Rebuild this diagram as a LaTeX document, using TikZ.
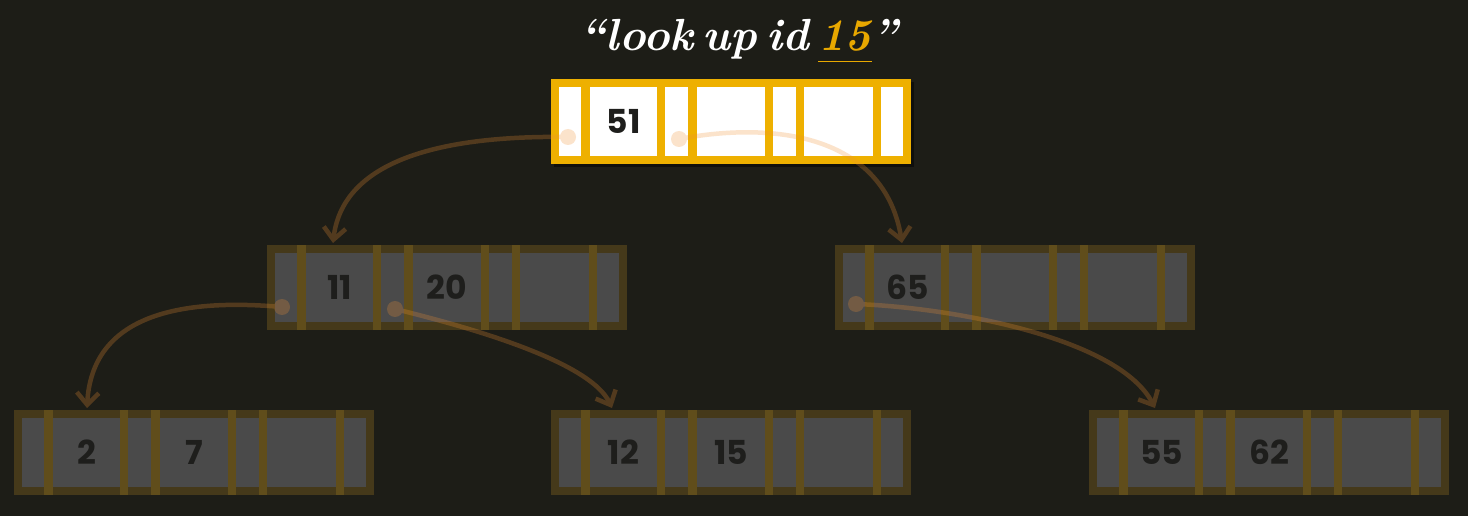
\documentclass[tikz,border=0pt]{standalone}
\usepackage{fontspec}
\newfontfamily\numfont{Poppins}
\usetikzlibrary{arrows.meta}
\definecolor{bgc}{RGB}{29,29,23}
\definecolor{goldc}{RGB}{238,176,0}
\definecolor{titlegold}{RGB}{232,168,0}
\definecolor{framec}{RGB}{69,57,26}
\definecolor{barc}{RGB}{96,77,27}
\definecolor{greyc}{RGB}{74,74,74}
\definecolor{keyc}{RGB}{30,30,28}
\definecolor{linkc}{RGB}{241,145,51}
\tikzset{
  keytext/.style={font=\numfont\bfseries\fontsize{33}{33}\selectfont, text=keyc, inner sep=0pt},
  titletext/.style={font=\bfseries\itshape\fontsize{45}{45}\selectfont, inner sep=0pt},
  framebox/.style={anchor=north west, minimum width=360pt, minimum height=85pt, inner sep=0pt, draw=none},
  ptrdot/.style={circle, fill=linkc, minimum size=16pt, inner sep=0pt, draw=none},
  link/.style={draw=linkc, line width=4.5pt, -{Straight Barb[length=12pt,width=22pt]}},
  linkgroup/.style={transparency group, opacity=0.25}
}
% #1 name, #2 x, #3 y, #4 frame colour, #5 bar colour, #6 cell colour, #7 key 1, #8 key 2
\newcommand\treenodebox[8]{%
  \begin{scope}[shift={(#2,#3)}]
    \node[framebox, fill=#4] (#1) at (0,0) {};
    \fill[#6] (8,8) rectangle (352,77);
    \foreach \a/\b in {30/39,106/114,137/146,214/222,245/253,322/330}
      \fill[#5] (\a,0) rectangle (\b,85);
    \node[keytext] (#1-k1) at (72.5,42.5) {#7};
    \node[keytext] (#1-k2) at (180,42.5) {#8};
  \end{scope}}
\begin{document}
\begin{tikzpicture}[x=1pt,y=-1pt]
\useasboundingbox (0,0) rectangle (1468,516);
\fill[bgc] (0,0) rectangle (1468,516);

% title
\node[titletext, text=titlegold, anchor=base west] (t2) at (818,51) {15};
\node[titletext, text=white, anchor=base east] (t1) at ([xshift=-9pt]t2.base west) {“look\hspace{9pt}up\hspace{9pt}id};
\node[titletext, text=white, anchor=base west] (t3) at (t2.base east) {”};
\draw[titlegold, line width=1pt] ([yshift=-11pt]t2.base west) -- ([yshift=-11pt]t2.base east);

% root shadow
\fill[black, opacity=0.45] (554,82) rectangle (914,167);
\treenodebox{root}{551}{79}{goldc}{goldc}{white}{51}{}
\treenodebox{midL}{267}{245}{framec}{barc}{greyc}{11}{20}
\treenodebox{midR}{835}{245}{framec}{barc}{greyc}{65}{}
\treenodebox{leafA}{14}{410}{framec}{barc}{greyc}{2}{7}
\treenodebox{leafB}{551}{410}{framec}{barc}{greyc}{12}{15}
\treenodebox{leafC}{1089}{410}{framec}{barc}{greyc}{55}{62}

% arrow ends
\coordinate (inMidL) at (333,243);
\coordinate (inMidR) at (902,243);
\coordinate (inLeafA) at (87,408);
\coordinate (inLeafB) at (612,408);
\coordinate (inLeafC) at (1155,408);

% connectors
\begin{scope}[linkgroup]
  \node[ptrdot] (rootP0) at (568,137) {};
  \draw[link] (rootP0.center) .. controls (430,135) and (342,165) .. (inMidL);
\end{scope}
\begin{scope}[linkgroup]
  \node[ptrdot] (rootP1) at (679,139) {};
  \draw[link] (rootP1.center) .. controls (780,120) and (885,138) .. (inMidR);
\end{scope}
\begin{scope}[linkgroup]
  \node[ptrdot] (midLP0) at (282,307) {};
  \draw[link] (midLP0.center) .. controls (180,298) and (92,315) .. (inLeafA);
\end{scope}
\begin{scope}[linkgroup]
  \node[ptrdot] (midLP1) at (395,309) {};
  \draw[link] (midLP1.center) .. controls (460,325) and (590,360) .. (inLeafB);
\end{scope}
\begin{scope}[linkgroup]
  \node[ptrdot] (midRP0) at (856,304) {};
  \draw[link] (midRP0.center) .. controls (960,308) and (1120,340) .. (inLeafC);
\end{scope}
\end{tikzpicture}
\end{document}
